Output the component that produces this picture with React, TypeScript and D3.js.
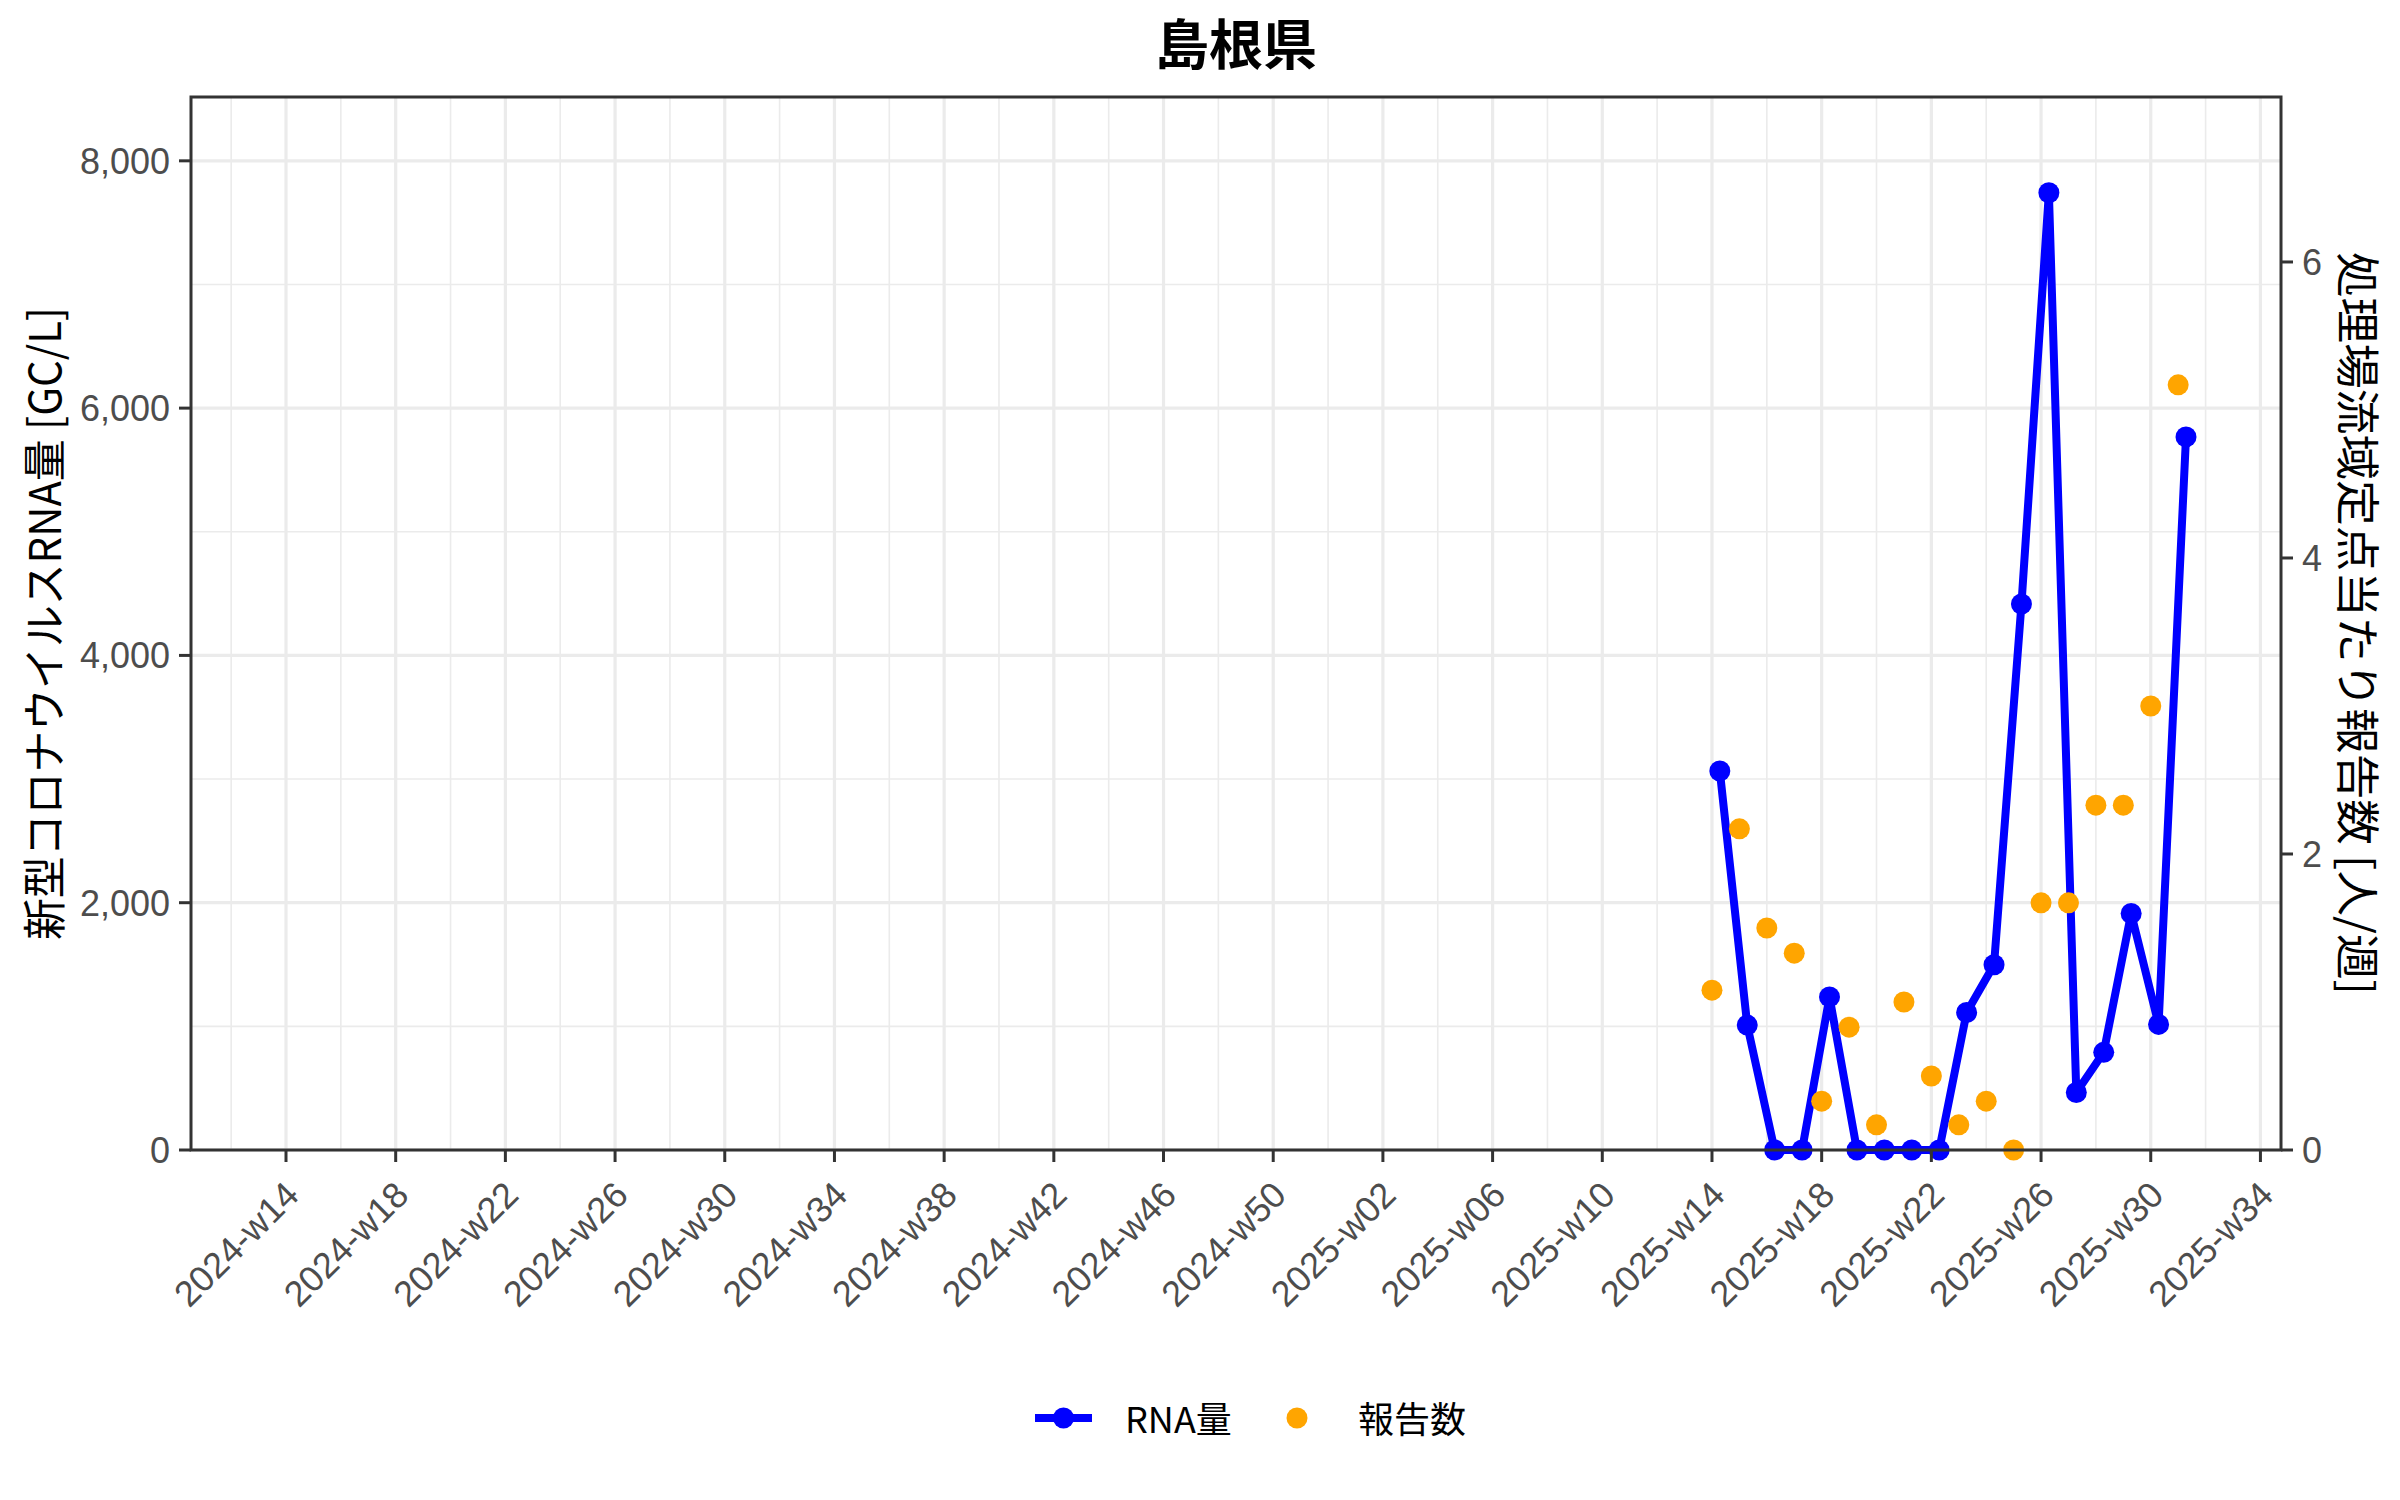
import React, { useEffect, useRef } from 'react';
import * as d3 from 'd3';

// weeks that have data (both series)
const dataWeeks = [
  '2025-w14', '2025-w15', '2025-w16', '2025-w17', '2025-w18', '2025-w19',
  '2025-w20', '2025-w21', '2025-w22', '2025-w23', '2025-w24', '2025-w25',
  '2025-w26', '2025-w27', '2025-w28', '2025-w29', '2025-w30', '2025-w31',
];
// RNA量 [GC/L]
const rnaValues = [
  3065, 1010, 0, 0, 1238, 0, 0, 0, 0, 1112, 1498, 4416, 7742, 465, 790, 1913, 1016, 5767,
];
// 報告数 [人/週]
const reportValues = [
  1.08, 2.17, 1.5, 1.33, 0.33, 0.83, 0.17, 1.0, 0.5, 0.17, 0.33, 0, 1.67, 1.67, 2.33, 2.33, 3.0, 5.17,
];
const xTickLabels = [
  '2024-w14', '2024-w18', '2024-w22', '2024-w26', '2024-w30', '2024-w34', '2024-w38',
  '2024-w42', '2024-w46', '2024-w50', '2025-w02', '2025-w06', '2025-w10', '2025-w14',
  '2025-w18', '2025-w22', '2025-w26', '2025-w30', '2025-w34',
];
const leftTicks = [0, 2000, 4000, 6000, 8000];
const leftMinor = [1000, 3000, 5000, 7000];
const rightTicks = [0, 2, 4, 6];

const title = '島根県';
const leftTitle = '新型コロナウイルスRNA量 [GC/L]';
const rightTitle = '処理場流域定点当たり報告数 [人/週]';

// week index relative to 2024-w14 (2024 has 52 ISO weeks)
const weekIndex = (label: string) => {
  const [y, w] = label.split('-w');
  return (+y - 2024) * 52 + +w - 14;
};
const RNA_OFFSET = 2 / 7; // sampled mid-week
const SEC_RATIO = 1197;

const W = 2400;
const H = 1500;
const margin = { top: 97, right: 119, bottom: 350, left: 191 };

const CJK = '"Noto Sans CJK JP", "Noto Sans", sans-serif';
const SANS = '"Liberation Sans", Arial, sans-serif';

const App: React.FC = () => {
  const svgRef = useRef<SVGSVGElement | null>(null);

  useEffect(() => {
    if (!svgRef.current) return;
    const svg = d3.select(svgRef.current);
    svg.selectAll('*').remove();

    const x0 = margin.left;
    const x1 = W - margin.right;
    const y0 = margin.top;
    const y1 = H - margin.bottom;

    const rna = dataWeeks.map((w, i) => ({ x: weekIndex(w) + RNA_OFFSET, v: rnaValues[i] }));
    const rep = dataWeeks.map((w, i) => ({ x: weekIndex(w), v: reportValues[i] }));

    const lo = weekIndex(xTickLabels[0]);
    const hi = d3.max(rna, d => d.x)!;
    const pad = (hi - lo) * 0.05;
    const x = d3.scaleLinear().domain([lo - pad, hi + pad]).range([x0, x1]);

    const yTop = d3.max(rnaValues)! * 1.1;
    const y = d3.scaleLinear().domain([0, yTop]).range([y1, y0]);
    const y2 = d3.scaleLinear().domain([0, yTop / SEC_RATIO]).range([y1, y0]);

    const grid = svg.append('g');
    // minor grid
    const minorX = xTickLabels.slice(0, -1).map(l => weekIndex(l) + 2);
    minorX.unshift(weekIndex(xTickLabels[0]) - 2);
    grid.selectAll('line.mx').data(minorX.filter(v => x(v) > x0 && x(v) < x1)).join('line')
      .attr('x1', d => x(d)).attr('x2', d => x(d)).attr('y1', y0).attr('y2', y1)
      .attr('stroke', '#EBEBEB').attr('stroke-width', 1.6);
    grid.selectAll('line.my').data(leftMinor).join('line')
      .attr('x1', x0).attr('x2', x1).attr('y1', d => y(d)).attr('y2', d => y(d))
      .attr('stroke', '#EBEBEB').attr('stroke-width', 1.6);
    // major grid
    const g2 = svg.append('g');
    g2.selectAll('line').data(xTickLabels).join('line')
      .attr('x1', d => x(weekIndex(d))).attr('x2', d => x(weekIndex(d)))
      .attr('y1', y0).attr('y2', y1)
      .attr('stroke', '#EBEBEB').attr('stroke-width', 3.2);
    const g3 = svg.append('g');
    g3.selectAll('line').data(leftTicks).join('line')
      .attr('x1', x0).attr('x2', x1).attr('y1', d => y(d)).attr('y2', d => y(d))
      .attr('stroke', '#EBEBEB').attr('stroke-width', 3.2);

    // RNA line + points
    const line = d3.line<{ x: number; v: number }>().x(d => x(d.x)).y(d => y(d.v));
    svg.append('path').datum(rna)
      .attr('fill', 'none').attr('stroke', '#0000FF').attr('stroke-width', 8)
      .attr('stroke-linejoin', 'round').attr('d', line);
    svg.append('g').selectAll('circle').data(rna).join('circle')
      .attr('cx', d => x(d.x)).attr('cy', d => y(d.v)).attr('r', 10.5).attr('fill', '#0000FF');

    // report points
    svg.append('g').selectAll('circle').data(rep).join('circle')
      .attr('cx', d => x(d.x)).attr('cy', d => y2(d.v)).attr('r', 10.5).attr('fill', '#FFA500');

    // panel border
    svg.append('rect').attr('x', x0).attr('y', y0).attr('width', x1 - x0).attr('height', y1 - y0)
      .attr('fill', 'none').attr('stroke', '#333333').attr('stroke-width', 3);

    // left axis
    const la = svg.append('g');
    la.selectAll('line').data(leftTicks).join('line')
      .attr('x1', x0 - 12).attr('x2', x0).attr('y1', d => y(d)).attr('y2', d => y(d))
      .attr('stroke', '#333333').attr('stroke-width', 3);
    la.selectAll('text').data(leftTicks).join('text')
      .attr('x', x0 - 21).attr('y', d => y(d)).attr('dy', '0.36em')
      .attr('text-anchor', 'end').attr('font-family', SANS).attr('font-size', 36)
      .attr('fill', '#4D4D4D').text(d => d3.format(',')(d));

    // right axis
    const ra = svg.append('g');
    ra.selectAll('line').data(rightTicks).join('line')
      .attr('x1', x1).attr('x2', x1 + 12).attr('y1', d => y2(d)).attr('y2', d => y2(d))
      .attr('stroke', '#333333').attr('stroke-width', 3);
    ra.selectAll('text').data(rightTicks).join('text')
      .attr('x', x1 + 21).attr('y', d => y2(d)).attr('dy', '0.36em')
      .attr('text-anchor', 'start').attr('font-family', SANS).attr('font-size', 36)
      .attr('fill', '#4D4D4D').text(d => String(d));

    // bottom axis
    const ba = svg.append('g');
    ba.selectAll('line').data(xTickLabels).join('line')
      .attr('x1', d => x(weekIndex(d))).attr('x2', d => x(weekIndex(d)))
      .attr('y1', y1).attr('y2', y1 + 12)
      .attr('stroke', '#333333').attr('stroke-width', 3);
    ba.selectAll('text').data(xTickLabels).join('text')
      .attr('transform', d => `translate(${x(weekIndex(d)) + 15},${y1 + 47}) rotate(-45)`)
      .attr('text-anchor', 'end').attr('font-family', SANS).attr('font-size', 36)
      .attr('fill', '#4D4D4D').text(d => d);

    // titles
    svg.append('text').attr('x', (x0 + x1) / 2).attr('y', 65)
      .attr('text-anchor', 'middle').attr('font-family', CJK).attr('font-weight', 'bold')
      .attr('font-size', 54).attr('fill', '#000').text(title);
    svg.append('text')
      .attr('transform', `translate(42,${(y0 + y1) / 2}) rotate(-90)`)
      .attr('text-anchor', 'middle').attr('dominant-baseline', 'central')
      .attr('font-family', CJK).attr('font-size', 44).attr('fill', '#000')
      .attr('textLength', 633).attr('lengthAdjust', 'spacingAndGlyphs').text(leftTitle);
    svg.append('text')
      .attr('transform', `translate(2360,${(y0 + y1) / 2}) rotate(90)`)
      .attr('text-anchor', 'middle').attr('dominant-baseline', 'central')
      .attr('font-family', CJK).attr('font-size', 44).attr('fill', '#000')
      .attr('textLength', 743).attr('lengthAdjust', 'spacingAndGlyphs').text(rightTitle);

    // legend
    const lg = svg.append('g').attr('transform', 'translate(0,1418)');
    lg.append('line').attr('x1', 1035).attr('x2', 1092).attr('y1', 0).attr('y2', 0)
      .attr('stroke', '#0000FF').attr('stroke-width', 8);
    lg.append('circle').attr('cx', 1063.5).attr('cy', 0).attr('r', 10.5).attr('fill', '#0000FF');
    lg.append('text').attr('x', 1125).attr('y', 15).attr('font-family', CJK)
      .attr('font-size', 36).attr('fill', '#000').text('RNA量');
    lg.append('circle').attr('cx', 1297).attr('cy', 0).attr('r', 10.5).attr('fill', '#FFA500');
    lg.append('text').attr('x', 1358).attr('y', 15).attr('font-family', CJK)
      .attr('font-size', 36).attr('fill', '#000').text('報告数');
  }, []);

  return (
    <svg
      ref={svgRef}
      width={W}
      height={H}
      style={{ position: 'absolute', left: 0, top: 0, background: '#fff' }}
    />
  );
};

export default App;
